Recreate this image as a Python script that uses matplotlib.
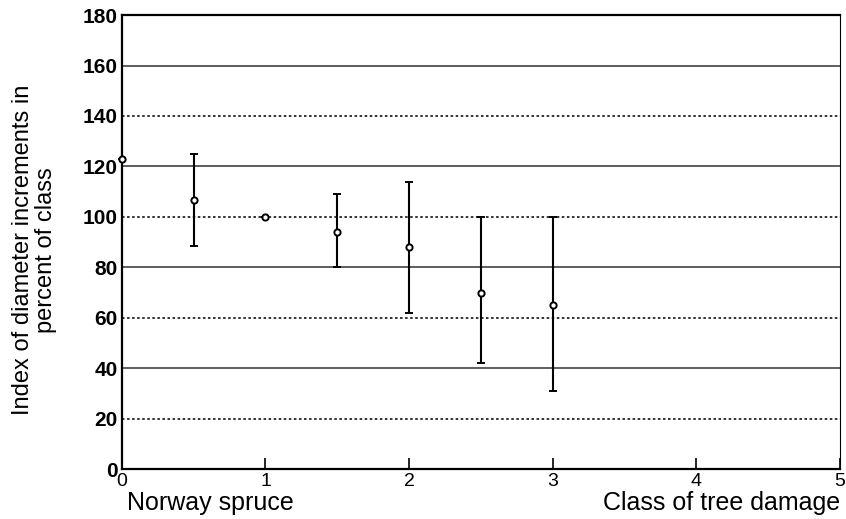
import numpy as np
import matplotlib.pyplot as plt

# ── DATA ───────────────────────────────────────────────────────────────────────
damage_class = [0, 0.5, 1, 1.5, 2, 2.5, 3]
index_mean   = [123, 106.5, 100, 94, 88, 70, 65]
index_low    = [123, 88.5, 100, 80, 62, 42, 31]
index_high   = [123, 125, 100, 109, 114, 100, 100]
solid_grid   = [40, 80, 120, 160]
dotted_grid  = [20, 60, 100, 140]
y_ticks      = list(range(0, 181, 20))
x_ticks      = [0, 1, 2, 3, 4, 5]
# ───────────────────────────────────────────────────────────────────────────────

plt.rcParams['font.family'] = ['Liberation Sans', 'DejaVu Sans']

fig = plt.figure(figsize=(8.46, 5.19), dpi=100)
ax = fig.add_axes([0.144, 0.096, 0.849, 0.875])

for g in solid_grid:
    ax.axhline(g, color='#333333', lw=1.1, zorder=1)
for g in dotted_grid:
    ax.axhline(g, color='#333333', lw=1.4, ls=(0, (1.3, 1.3)), zorder=1)

mean = np.array(index_mean)
yerr = np.vstack([mean - np.array(index_low), np.array(index_high) - mean])
ax.errorbar(damage_class, mean, yerr=yerr, fmt='o', ms=4.5,
            mfc='white', mec='black', mew=1.4, ecolor='black',
            elinewidth=1.5, capsize=3, capthick=1.0, zorder=3, clip_on=False)

ax.set_xlim(0, 5)
ax.set_ylim(0, 180)
ax.set_yticks(y_ticks)
ax.set_xticks(x_ticks)
ax.tick_params(axis='x', direction='in', length=8, width=1.2, pad=3,
               labelsize=14)
ax.tick_params(axis='y', length=0, pad=3, labelsize=15)
for lab in ax.get_yticklabels():
    lab.set_fontweight('bold')
for sp in ax.spines.values():
    sp.set_linewidth(1.6)
ax.spines['right'].set_linewidth(0.8)

fig.text(0.041, 0.518, "Index of diameter increments in\npercent of class",
         fontsize=17, rotation=90, ha='center', va='center',
         multialignment='center', linespacing=1.05)
fig.text(0.150, 0.031, "Norway spruce", fontsize=18, ha='left', va='center')
fig.text(0.993, 0.031, "Class of tree damage", fontsize=18, ha='right',
         va='center')

fig.savefig("out.png", dpi=100)
